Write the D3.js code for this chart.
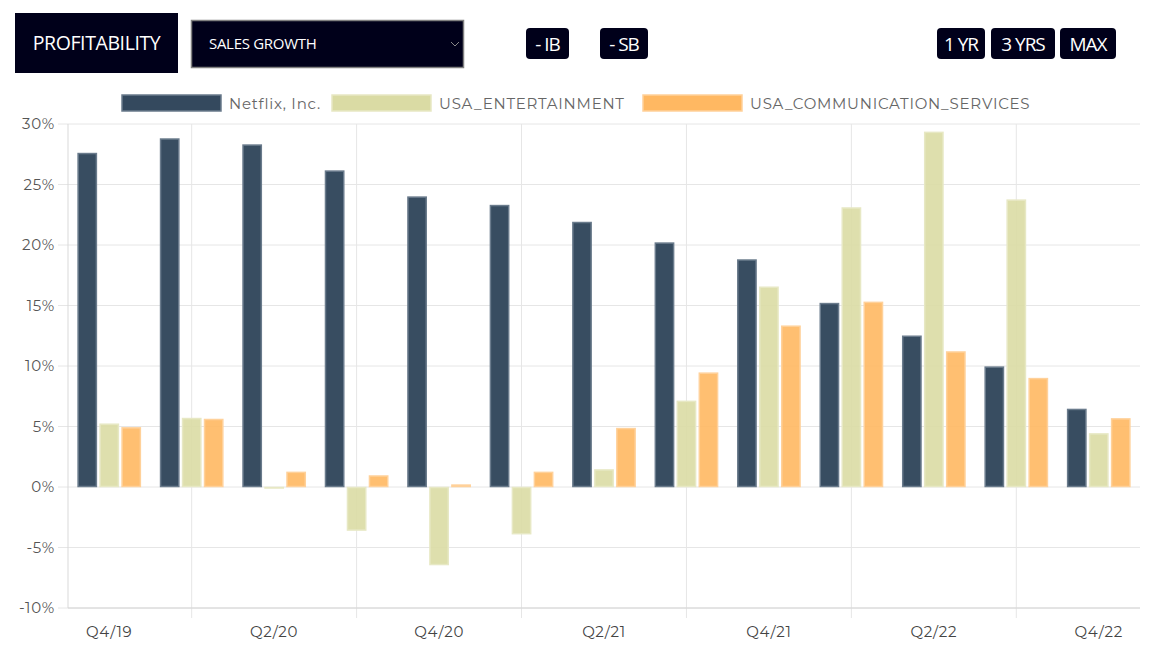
<!DOCTYPE html>
<html><head><meta charset="utf-8">
<script src="https://cdn.jsdelivr.net/npm/d3@7"></script>
<style>
html,body{margin:0;padding:0;background:#fff;}
svg{display:block;}
</style></head>
<body>
<svg id="chart" width="1163" height="671"></svg>
<script>
const categories = ["Q4/19","Q1/20","Q2/20","Q3/20","Q4/20","Q1/21","Q2/21","Q3/21","Q4/21","Q1/22","Q2/22","Q3/22","Q4/22"];
const seriesNames = ["Netflix, Inc.","USA_ENTERTAINMENT","USA_COMMUNICATION_SERVICES"];
const netflix = [27.6, 28.8, 28.3, 26.15, 24.0, 23.3, 21.9, 20.2, 18.8, 15.2, 12.5, 9.95, 6.45];
const entertainment = [5.23, 5.7, -0.1, -3.6, -6.45, -3.9, 1.45, 7.12, 16.55, 23.1, 29.35, 23.75, 4.43];
const communication = [4.93, 5.62, 1.25, 0.95, 0.2, 1.25, 4.87, 9.45, 13.33, 15.3, 11.2, 9.0, 5.67];
const yTicks = [-10, -5, 0, 5, 10, 15, 20, 25, 30];
const headerButtons = ["- IB", "- SB", "1 YR", "3 YRS", "MAX"];

(function(){
const fills = ["#34495e", "#dadba4", "#ffb862"];
const strokes = ["#6a7b8c", "#e7e8c4", "#ffd19a"];
const font = "'Montserrat','Noto Sans','DejaVu Sans',sans-serif";
const uiFont = "'Open Sans','Noto Sans',sans-serif";

const svg = d3.select("#chart");
const pL = 68, pR = 1140, pT = 124, pB = 608;

// ---- header ----
const hdr = svg.append("g");
hdr.append("rect").attr("x",15).attr("y",13).attr("width",163).attr("height",60).attr("fill","#00001a");
hdr.append("text").attr("x",96.5).attr("y",49.5).attr("text-anchor","middle").attr("fill","#fff")
  .style("font-family",uiFont).style("font-size","19.5px").style("letter-spacing","-0.4px").text("PROFITABILITY");
hdr.append("rect").attr("x",191.5).attr("y",20.5).attr("width",272).attr("height",47).attr("fill","#00001a")
  .attr("stroke","#808080").attr("stroke-width",1.5);
hdr.append("text").attr("x",209).attr("y",49).attr("fill","#fff")
  .style("font-family",uiFont).style("font-size","15px").style("letter-spacing","-0.3px").text("SALES GROWTH");
hdr.append("path").attr("d","M451,42 L455,46 L459,42").attr("fill","none").attr("stroke","#888").attr("stroke-width",1);

const btnX = [526, 600, 937, 991, 1060];
const btnW = [43, 48, 48, 64, 56];
headerButtons.forEach((b,i)=>{
  hdr.append("rect").attr("x",btnX[i]).attr("y",28).attr("width",btnW[i]).attr("height",31).attr("rx",4)
    .attr("fill","#00001a");
  hdr.append("text").attr("x",btnX[i]+btnW[i]/2).attr("y",51).attr("text-anchor","middle").attr("fill","#fff")
    .style("font-family",uiFont).style("font-size","19px").style("letter-spacing","-1px").text(b);
});

// ---- legend ----
const legX = [121, 331, 642];
const leg = svg.append("g");
seriesNames.forEach((n,i)=>{
  leg.append("rect").attr("x",legX[i]+1).attr("y",95).attr("width",99).attr("height",16)
    .attr("fill",fills[i]).attr("stroke",strokes[i]).attr("stroke-width",1.5);
  leg.append("text").attr("x",legX[i]+108).attr("y",108.5).attr("fill","#666")
    .style("font-family",font).style("font-size","15px").style("letter-spacing","0.75px").text(n);
});

// ---- scales ----
const x = d3.scaleBand().domain(categories).range([pL,pR]).paddingInner(0).paddingOuter(0);
const y = d3.scaleLinear().domain([-10,30]).range([pB,pT]);
const inner = d3.scaleBand().domain(d3.range(3)).range([0, x.bandwidth()*0.8]).paddingInner(0.1).paddingOuter(0.05);
const groupOffset = x.bandwidth()*0.1;

// ---- grid ----
const grid = svg.append("g");
yTicks.forEach(t=>{
  grid.append("line").attr("x1",pL-10).attr("x2",pR).attr("y1",y(t)).attr("y2",y(t))
    .attr("stroke","#e6e6e6").attr("stroke-width",1);
});
categories.forEach((c,i)=>{
  if(i%2===1){
    const cx = x(c)+x.bandwidth()/2;
    grid.append("line").attr("x1",cx).attr("x2",cx).attr("y1",pT).attr("y2",pB+10)
      .attr("stroke","#e6e6e6").attr("stroke-width",1);
  }
});
grid.append("line").attr("x1",pL).attr("x2",pL).attr("y1",pT).attr("y2",pB)
  .attr("stroke","#d9d9d9").attr("stroke-width",1);
grid.append("line").attr("x1",pL).attr("x2",pR).attr("y1",pB).attr("y2",pB)
  .attr("stroke","#d4d4d4").attr("stroke-width",1);

// ---- axes labels ----
const yAxis = d3.axisLeft(y).tickValues(yTicks).tickFormat(d=>d+"%").tickSize(0).tickPadding(13);
const ya = svg.append("g").attr("transform",`translate(${pL},0)`).call(yAxis);
ya.select(".domain").remove();
ya.selectAll("text").attr("fill","#555").style("font-family",font).style("font-size","15px").style("letter-spacing","0.7px");

const xAxis = d3.axisBottom(x).tickValues(categories.filter((c,i)=>i%2===0)).tickSize(0).tickPadding(18);
const xa = svg.append("g").attr("transform",`translate(0,${pB})`).call(xAxis);
xa.select(".domain").remove();
xa.selectAll("text").attr("fill","#444").style("font-family",font).style("font-size","15px").style("letter-spacing","0.7px");

// ---- bars ----
const data = [netflix, entertainment, communication];
const barsG = svg.append("g");
data.forEach((vals,s)=>{
  barsG.selectAll(null).data(vals).enter().append("rect")
    .attr("x",(d,i)=>x(categories[i])+groupOffset+inner(s)+0.75)
    .attr("width",inner.bandwidth()-1.5)
    .attr("y",d=>Math.min(y(d),y(0))+0.5)
    .attr("height",d=>Math.max(0.5,Math.abs(y(d)-y(0))-1))
    .attr("fill",fills[s]).attr("fill-opacity",s===0?0.98:0.9)
    .attr("stroke",strokes[s]).attr("stroke-width",1.5);
});
})();
</script>
</body></html>
